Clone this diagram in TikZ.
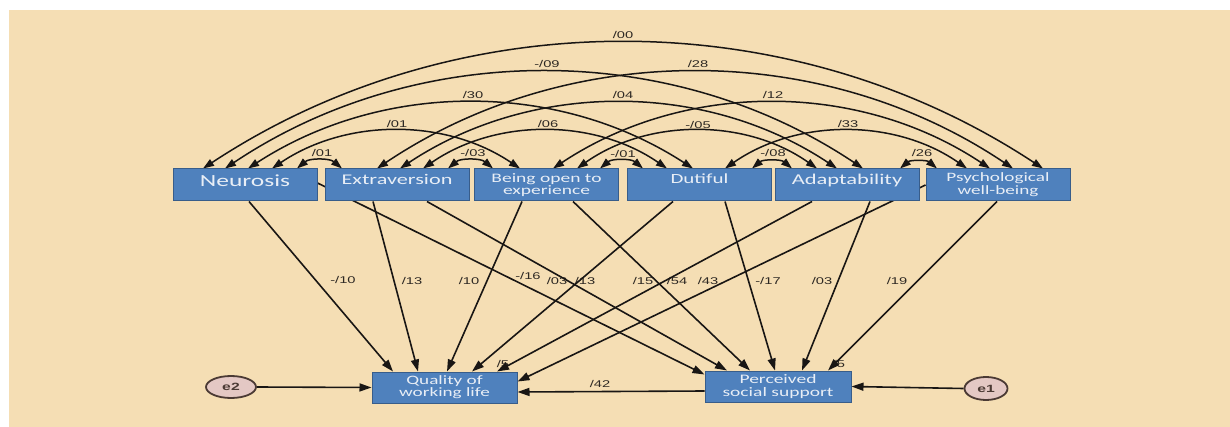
\documentclass[tikz,border=0pt]{standalone}
\usepackage{fontspec}
\setmainfont{Carlito}
\newfontfamily\boxfont[FakeStretch=1.5]{Carlito}
\newfontfamily\lblfont[FakeStretch=1.5]{Liberation Sans}
\usetikzlibrary{arrows.meta,shapes.geometric}
\pgfdeclarelayer{bglayer}
\pgfdeclarelayer{edgelayer}
\pgfsetlayers{bglayer,edgelayer,main}
\definecolor{bgbeige}{RGB}{245,222,180}
\definecolor{boxblue}{RGB}{79,129,189}
\definecolor{boxedge}{RGB}{56,93,138}
\definecolor{boxtext}{RGB}{232,238,246}
\definecolor{lbltext}{RGB}{45,40,35}
\definecolor{linec}{RGB}{25,22,20}
\definecolor{efill}{RGB}{228,200,196}
\definecolor{eedge}{RGB}{75,58,52}
\newcommand{\boxtxt}[2]{\raisebox{#1}[0pt][0pt]{#2}}
\begin{document}
\begin{tikzpicture}[x=1pt,y=-1pt,
  box/.style={draw=boxedge,fill=boxblue,line width=1pt,minimum width=144pt,minimum height=32pt,inner sep=0pt,align=center,text=boxtext},
  lbl/.style={font=\lblfont\fontsize{9.8}{10}\selectfont,text=lbltext,inner sep=0.5pt},
  corr/.style={line width=1.5pt,draw=linec,{Triangle[length=11pt,width=7.5pt]}-{Triangle[length=11pt,width=7.5pt]},looseness=0.93},
  reg/.style={line width=1.6pt,draw=linec,-{Triangle[length=12pt,width=8pt]}},
  errv/.style={ellipse,draw=eedge,fill=efill,line width=1.8pt,inner sep=0pt,font=\lblfont\bfseries\fontsize{10.5}{12}\selectfont,text=eedge}
]
\useasboundingbox (0,0) rectangle (1230,427);
% ---------- nodes ----------
\node[box,font=\boxfont\fontsize{17}{19}\selectfont] (neu) at (245,185) {\boxtxt{-1.2pt}{Neurosis}};
\node[box,font=\boxfont\fontsize{14.8}{16}\selectfont] (ext) at (397,185) {\boxtxt{0.9pt}{Extraversion}};
\node[box,font=\boxfont\fontsize{13}{12.8}\selectfont] (bop) at (546.5,185) {Being open to\\experience};
\node[box,font=\boxfont\fontsize{14}{16}\selectfont] (dut) at (699.5,185) {\boxtxt{1.5pt}{Dutiful}};
\node[box,font=\boxfont\fontsize{15}{16}\selectfont] (ada) at (847,185) {\boxtxt{0.2pt}{Adaptability}};
\node[box,font=\boxfont\fontsize{12.8}{13}\selectfont] (psy) at (998,185) {Psychological\\well-being};
\node[box,minimum width=145pt,minimum height=31pt,font=\boxfont\fontsize{12.8}{12}\selectfont] (qwl) at (444.5,387.5) {Quality of\\working life};
\node[box,minimum width=146pt,minimum height=31pt,font=\boxfont\fontsize{13}{12.3}\selectfont] (pss) at (778,386.5) {Perceived\\social support};
\node[errv,minimum width=50pt,minimum height=22pt] (e2) at (231,387) {e2};
\node[errv,minimum width=43pt,minimum height=23pt] (e1) at (986,388.5) {e1};
% ---------- background and labels ----------
\begin{pgfonlayer}{bglayer}
\fill[white] (0,0) rectangle (1230,427);
\fill[bgbeige] (9,10) rectangle (1230,427);
% correlation labels
\node[lbl] (c1) at (623,35) {/00};
\node[lbl] (c2) at (547,64) {-/09};
\node[lbl] (c3) at (698,64) {/28};
\node[lbl] (c4) at (473,95) {/30};
\node[lbl] (c5) at (623,95) {/04};
\node[lbl] (c6) at (773,95) {/12};
\node[lbl] (c7) at (397,124) {/01};
\node[lbl] (c8) at (548,124) {/06};
\node[lbl] (c9) at (698,125) {-/05};
\node[lbl] (c10) at (848,124) {/33};
\node[lbl] (c11) at (322,153) {/01};
\node[lbl] (c12) at (473,153) {-/03};
\node[lbl] (c13) at (623,154) {-/01};
\node[lbl] (c14) at (773,153) {-/08};
\node[lbl] (c15) at (922,153) {/26};
% path labels
\node[lbl] (r1) at (343,280) {-/10};
\node[lbl] (r2) at (412,281) {/13};
\node[lbl] (r3) at (469,281) {/10};
\node[lbl] (r4) at (528,276) {-/16};
\node[lbl] (r5) at (557,281) {/03};
\node[lbl] (r6) at (585,281) {/13};
\node[lbl] (r7) at (643,281) {/15};
\node[lbl] (r8) at (677,281) {/54};
\node[lbl] (r9) at (708,281) {/43};
\node[lbl] (r10) at (768,281) {-/17};
\node[lbl] (r11) at (822,281) {/03};
\node[lbl] (r12) at (897,281) {/19};
\node[lbl] (r13) at (600,384) {/42};
\node[lbl] (q1) at (503,364) {/5};
\node[lbl] (q2) at (839,364) {/5};
\end{pgfonlayer}
% ---------- connectors ----------
\begin{pgfonlayer}{edgelayer}
% correlations
\draw[corr] ([xshift=-42pt]neu.north) to[bend left=33.4] ([xshift=45pt]psy.north);
\draw[corr] ([xshift=-20pt]neu.north) to[bend left=33.8] ([xshift=16pt]ada.north);
\draw[corr] ([xshift=-20pt]ext.north) to[bend left=33.9] ([xshift=15pt]psy.north);
\draw[corr] ([xshift=3pt]neu.north) to[bend left=33] ([xshift=-6.5pt]dut.north);
\draw[corr] ([xshift=3pt]ext.north) to[bend left=33.6] ([xshift=-10pt]ada.north);
\draw[corr] ([xshift=6.5pt]bop.north) to[bend left=33.6] ([xshift=-8pt]psy.north);
\draw[corr] ([xshift=27pt]neu.north) to[bend left=34] ([xshift=-26.5pt]bop.north);
\draw[corr] ([xshift=26pt]ext.north) to[bend left=34.6] ([xshift=-32.5pt]dut.north);
\draw[corr] ([xshift=30.5pt]bop.north) to[bend left=35.2] ([xshift=-30pt]ada.north);
\draw[corr] ([xshift=25.5pt]dut.north) to[bend left=34.8] ([xshift=-31pt]psy.north);
\draw[corr] ([xshift=52pt]neu.north) to[bend left=40] ([xshift=-55pt]ext.north);
\draw[corr] ([xshift=51pt]ext.north) to[bend left=40] ([xshift=-53.5pt]bop.north);
\draw[corr] ([xshift=53.5pt]bop.north) to[bend left=40] ([xshift=-56.5pt]dut.north);
\draw[corr] ([xshift=52.5pt]dut.north) to[bend left=40] ([xshift=-55pt]ada.north);
\draw[corr] ([xshift=53pt]ada.north) to[bend left=40] ([xshift=-61pt]psy.north);
% regressions to quality of working life
\draw[reg] ([xshift=4pt]neu.south) -- ([xshift=-51.5pt]qwl.north);
\draw[reg] ([xshift=-24pt]ext.south) -- ([xshift=-26.5pt]qwl.north);
\draw[reg] ([xshift=-24.5pt]bop.south) -- ([xshift=2.5pt]qwl.north);
\draw[reg] ([xshift=-26.5pt]dut.south) -- ([xshift=27.5pt]qwl.north);
\draw[reg] ([xshift=-35pt]ada.south) -- ([xshift=52.5pt]qwl.north);
\draw[reg] (psy.west) -- ([yshift=6pt]qwl.east);
% regressions to perceived social support
\draw[reg] ([yshift=2pt]neu.east) -- ([yshift=-4pt]pss.north west);
\draw[reg] ([xshift=30pt]ext.south) -- ([xshift=-51pt]pss.north);
\draw[reg] ([xshift=26.5pt]bop.south) -- ([xshift=-28pt]pss.north);
\draw[reg] ([xshift=25.5pt]dut.south) -- ([xshift=-3pt]pss.north);
\draw[reg] ([xshift=23pt]ada.south) -- ([xshift=24pt]pss.north);
\draw[reg] ([xshift=-1pt]psy.south) -- ([xshift=50pt]pss.north);
% bottom row
\draw[reg] ([yshift=-4.5pt]pss.west) -- ([yshift=-4.5pt]qwl.east);
\draw[reg] (e2.east) -- (qwl.west);
\draw[reg] (e1.west) -- (pss.east);
\end{pgfonlayer}
\end{tikzpicture}
\end{document}
